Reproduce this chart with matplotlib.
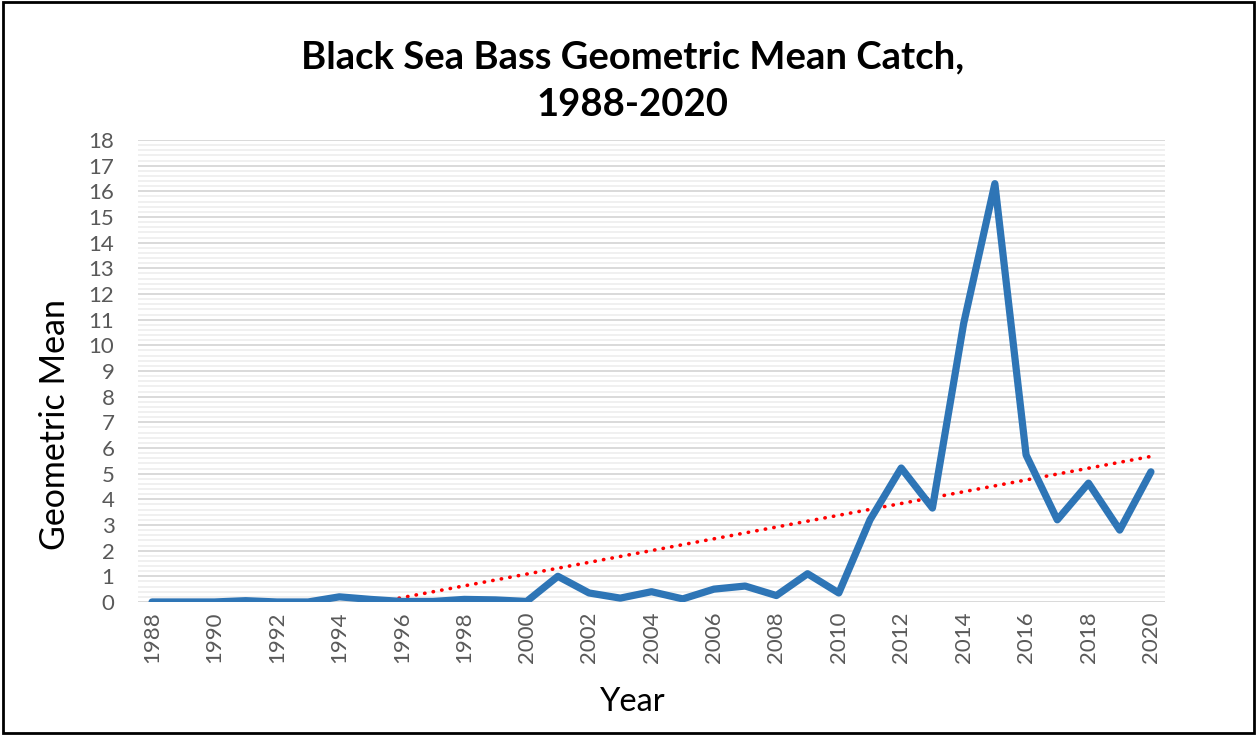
import numpy as np
import matplotlib.pyplot as plt
from matplotlib.patches import Rectangle
from matplotlib.ticker import MultipleLocator

plt.rcParams['font.family'] = ['Lato', 'DejaVu Sans']

# Geometric mean catch by year
years = np.arange(1988, 2021)
geo_mean = [0.0, 0.0, 0.0, 0.05, 0.0, 0.0, 0.2, 0.1, 0.02, 0.02,
            0.1, 0.08, 0.02, 1.0, 0.35, 0.15, 0.4, 0.12, 0.5, 0.62,
            0.25, 1.1, 0.35, 3.2, 5.22, 3.66, 10.85, 16.3, 5.73, 3.2,
            4.63, 2.8, 5.07]
tick_years = list(range(1988, 2021, 2))

fig = plt.figure(figsize=(12.57, 7.35), dpi=100)
ax = fig.add_axes([0.1098, 0.181, 0.8170, 0.6285])

# linear trend, like Excel's trendline
slope, icpt = np.polyfit(years, geo_mean, 1)
ax.plot(years, slope * years + icpt, color='#FF0000', lw=2.6,
        linestyle=(0, (0.1, 2.3)), dash_capstyle='round', zorder=3)

ax.plot(years, geo_mean, color='#2E75B6', lw=5.2, solid_joinstyle='round',
        solid_capstyle='round', zorder=4)

ax.set_xlim(1987.55, 2020.45)
ax.set_ylim(0, 18)
ax.yaxis.set_major_locator(MultipleLocator(1))
ax.yaxis.set_minor_locator(MultipleLocator(0.2))
ax.grid(which='major', axis='y', color='#D9D9D9', lw=1.4, zorder=1)
ax.grid(which='minor', axis='y', color='#F0F0F0', lw=1.4, zorder=0)
ax.set_xticks(tick_years)
ax.set_xticklabels([str(y) for y in tick_years], rotation=90)
ax.tick_params(axis='both', which='both', length=0, labelsize=16, labelcolor='#595959')
ax.tick_params(axis='y', pad=17)
ax.tick_params(axis='x', pad=7)
for s in ax.spines.values():
    s.set_visible(False)

fig.text(0.503, 0.922, 'Black Sea Bass Geometric Mean Catch,', ha='center', va='center',
         fontsize=27.5, fontweight='bold')
fig.text(0.503, 0.857, '1988-2020', ha='center', va='center', fontsize=27.5, fontweight='bold')
fig.text(0.044, 0.422, 'Geometric Mean', rotation=90, ha='center', va='center', fontsize=24.5)
fig.text(0.503, 0.045, 'Year', ha='center', va='center', fontsize=23.5)

fig.patches.append(Rectangle((0.002, 0.003), 0.996, 0.994, transform=fig.transFigure,
                             fill=False, edgecolor='black', lw=2))

fig.savefig('out.png', dpi=100)
